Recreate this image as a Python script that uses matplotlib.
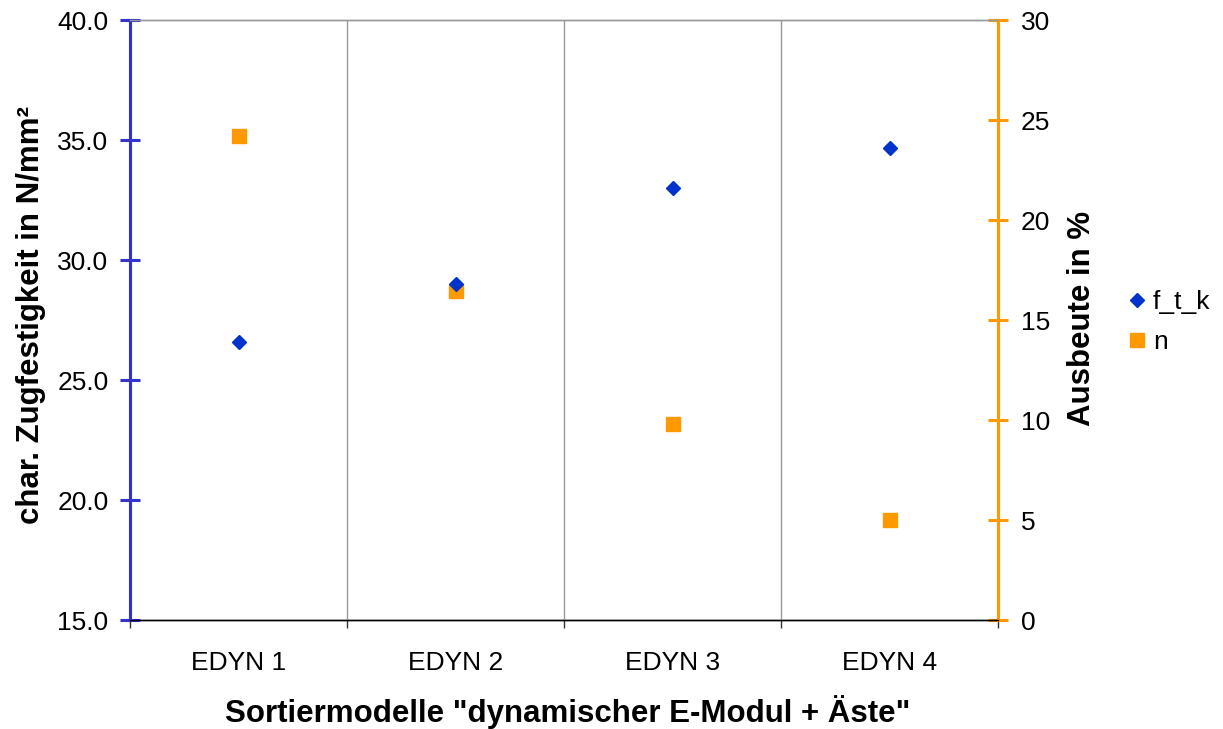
import matplotlib
matplotlib.use("Agg")
import matplotlib.pyplot as plt
from matplotlib.ticker import FixedLocator

plt.rcParams['font.family'] = ['Liberation Sans', 'DejaVu Sans']

categories = ["EDYN 1", "EDYN 2", "EDYN 3", "EDYN 4"]
f_t_k = [26.6, 29.0, 33.0, 34.65]
n_vals = [24.2, 16.45, 9.8, 5.0]
left_ticks = [15.0, 20.0, 25.0, 30.0, 35.0, 40.0]
right_ticks = [0, 5, 10, 15, 20, 25, 30]

blue_axis = "#3333CC"
blue_pt = "#0033CC"
orange = "#FF9900"

TICK_FS = 19
LABEL_FS = 22.5

fig = plt.figure(figsize=(12.23, 7.29), dpi=100)
ax = fig.add_axes([130/1223, 109/729, 868/1223, 600/729])
ax2 = ax.twinx()

x = list(range(1, len(categories) + 1))
ax.set_xlim(0.5, len(categories) + 0.5)
ax.set_ylim(15, 40)
ax2.set_ylim(0, 30)

# vertical gridlines at category boundaries
for b in [i + 0.5 for i in range(1, len(categories))]:
    ax.axvline(b, color="#999999", lw=1.0, zorder=0)

ax.set_xticks(x)
ax.set_xticklabels(categories, fontsize=TICK_FS)
ax.xaxis.set_minor_locator(FixedLocator([i + 0.5 for i in range(0, len(categories) + 1)]))
ax.tick_params(axis='x', which='major', length=0, pad=22)
ax.tick_params(axis='x', which='minor', length=6, direction='out', color='#333333', width=1)

ax.set_yticks(left_ticks)
ax.set_yticklabels([f"{v:.1f}" for v in left_ticks], fontsize=TICK_FS)
ax.tick_params(axis='y', length=14, direction='inout', color=blue_axis, width=2.2, pad=8.5)
ax2.set_yticks(right_ticks)
ax2.set_yticklabels([str(v) for v in right_ticks], fontsize=TICK_FS)
ax2.tick_params(axis='y', length=14, direction='inout', color=orange, width=2.2, pad=9.5)

for a in (ax, ax2):
    a.spines['left'].set_color(blue_axis)
    a.spines['left'].set_linewidth(2.2)
    a.spines['right'].set_color(orange)
    a.spines['right'].set_linewidth(2.2)
    a.spines['top'].set_color("#999999")
    a.spines['top'].set_linewidth(1.0)
    a.spines['bottom'].set_color("black")
    a.spines['bottom'].set_linewidth(1.0)

h1, = ax.plot(x, f_t_k, linestyle='none', marker='D', markersize=7.5, color=blue_pt,
              label='f_t_k', zorder=5, clip_on=False)
h2, = ax2.plot(x, n_vals, linestyle='none', marker='s', markersize=10, color=orange,
               label='n', zorder=4, clip_on=False)
ax.set_zorder(ax2.get_zorder() + 1)
ax.patch.set_visible(False)

ax.set_xlabel('Sortiermodelle "dynamischer E-Modul + Äste"', fontsize=LABEL_FS, fontweight='bold')
ax.xaxis.set_label_coords(0.504, -0.153)
ax.xaxis.label.set_va('center')
ax.set_ylabel('char. Zugfestigkeit in N/mm²', fontsize=LABEL_FS, fontweight='bold')
ax.yaxis.set_label_coords(-0.114, 0.508)
ax.yaxis.label.set_va('center')
ax2.set_ylabel('Ausbeute in %', fontsize=LABEL_FS, fontweight='bold')
ax2.yaxis.set_label_coords(1.097, 0.503)
ax2.yaxis.label.set_va('center')

fig.legend(handles=[h1, h2], loc='upper left', bbox_to_anchor=(1129/1223, 1 - 290/729),
           frameon=False, fontsize=TICK_FS, handlelength=0.6, handletextpad=0.3,
           labelspacing=0.62, borderaxespad=0, borderpad=0)

fig.savefig("out.png", dpi=100)
